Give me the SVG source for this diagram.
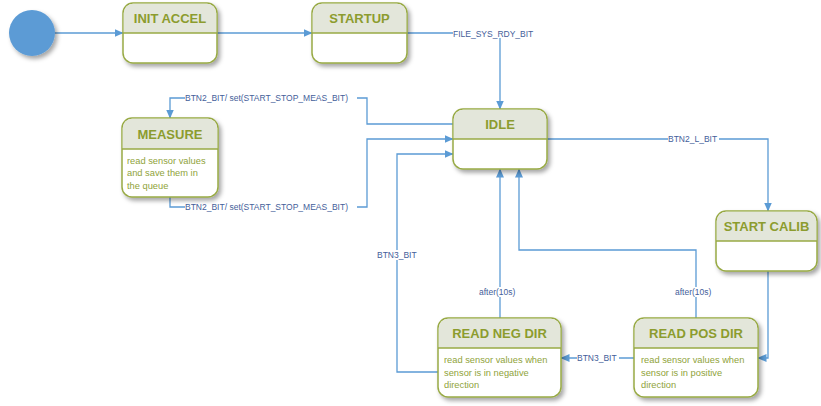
<svg xmlns="http://www.w3.org/2000/svg" width="821" height="406" viewBox="0 0 821 406">
<style>
.box{fill:#ffffff;stroke:#98aa45;stroke-width:1.5}
.hdr{fill:#e3e6da;stroke:none}
.div{stroke:#98aa45;stroke-width:1.5}
.title{font-family:"Liberation Sans",Arial,sans-serif;font-weight:bold;font-size:13px;fill:#8c9c2e;text-anchor:middle}
.body{font-family:"Liberation Sans",Arial,sans-serif;font-size:9.3px;fill:#8fa33a}
.conn{fill:none;stroke:#5b9bd5;stroke-width:1.3}
.lbl{font-family:"Liberation Sans",Arial,sans-serif;font-size:8.5px;fill:#44609a}
.bg{fill:#ffffff}
</style>
<defs>
<filter id="sh" x="-20%" y="-20%" width="150%" height="150%">
<feDropShadow dx="2.5" dy="3" stdDeviation="2" flood-color="#000" flood-opacity="0.35"/>
</filter>
<marker id="ah" markerWidth="9" markerHeight="8" refX="8.5" refY="4" orient="auto" markerUnits="userSpaceOnUse">
<path d="M0,0 L9,4 L0,8 Z" fill="#5b9bd5"/>
</marker>
</defs>

<g id="connectors">
<path class="conn" d="M55,33 H123" marker-end="url(#ah)"/>
<path class="conn" d="M217,33 H312" marker-end="url(#ah)"/>
<path class="conn" d="M407,33 H500 V109" marker-end="url(#ah)"/>
<path class="conn" d="M547,139 H768 V211" marker-end="url(#ah)"/>
<path class="conn" d="M768,271 V358 H758" marker-end="url(#ah)"/>
<path class="conn" d="M634,358 H561" marker-end="url(#ah)"/>
<path class="conn" d="M696,318 V250 H519 V169" marker-end="url(#ah)"/>
<path class="conn" d="M500,318 V169" marker-end="url(#ah)"/>
<path class="conn" d="M438,372 H397 V154 H453" marker-end="url(#ah)"/>
<path class="conn" d="M453,124 H367 V98 H170 V118" marker-end="url(#ah)"/>
<path class="conn" d="M170,197 V207 H367 V139 H453" marker-end="url(#ah)"/>

<rect class="bg" x="453" y="28" width="79" height="10"/>
<text class="lbl" x="453" y="36.5">FILE_SYS_RDY_BIT</text>
<rect class="bg" x="668" y="134" width="51" height="10"/>
<text class="lbl" x="668" y="142">BTN2_L_BIT</text>
<rect class="bg" x="185" y="93" width="172" height="10"/>
<text class="lbl" x="185" y="101">BTN2_BIT/ set(START_STOP_MEAS_BIT)</text>
<rect class="bg" x="185" y="202" width="172" height="10"/>
<text class="lbl" x="185" y="210">BTN2_BIT/ set(START_STOP_MEAS_BIT)</text>
<rect class="bg" x="377" y="250" width="41" height="10"/>
<text class="lbl" x="377" y="258">BTN3_BIT</text>
<rect class="bg" x="479" y="287" width="43" height="10"/>
<text class="lbl" x="479" y="295">after(10s)</text>
<rect class="bg" x="675" y="287" width="43" height="10"/>
<text class="lbl" x="675" y="295">after(10s)</text>
<rect class="bg" x="577" y="353" width="42" height="10"/>
<text class="lbl" x="577" y="361">BTN3_BIT</text>
</g>

<g id="start">
<circle cx="32" cy="33" r="23" fill="#5b9bd5" filter="url(#sh)"/>
</g>

<g id="init-accel">
<rect class="box" x="123" y="3" width="94" height="60" rx="10" filter="url(#sh)"/>
<path class="hdr" d="M133,3.75 H207 A9.25,9.25 0 0 1 216.25,13 V33 H123.75 V13 A9.25,9.25 0 0 1 133,3.75 Z"/>
<line class="div" x1="123" y1="33" x2="217" y2="33"/>
<text class="title" x="170" y="23">INIT ACCEL</text>
</g>

<g id="startup">
<rect class="box" x="312" y="3" width="95" height="60" rx="10" filter="url(#sh)"/>
<path class="hdr" d="M322,3.75 H397 A9.25,9.25 0 0 1 406.25,13 V33 H312.75 V13 A9.25,9.25 0 0 1 322,3.75 Z"/>
<line class="div" x1="312" y1="33" x2="407" y2="33"/>
<text class="title" x="359.5" y="23">STARTUP</text>
</g>

<g id="idle">
<rect class="box" x="453" y="109" width="94" height="60" rx="10" filter="url(#sh)"/>
<path class="hdr" d="M463,109.75 H537 A9.25,9.25 0 0 1 546.25,119 V139 H453.75 V119 A9.25,9.25 0 0 1 463,109.75 Z"/>
<line class="div" x1="453" y1="139" x2="547" y2="139"/>
<text class="title" x="500" y="129">IDLE</text>
</g>

<g id="measure">
<rect class="box" x="122" y="118" width="96" height="79" rx="10" filter="url(#sh)"/>
<path class="hdr" d="M132,118.75 H208 A9.25,9.25 0 0 1 217.25,128 V149 H122.75 V128 A9.25,9.25 0 0 1 132,118.75 Z"/>
<line class="div" x1="122" y1="149" x2="218" y2="149"/>
<text class="title" x="170" y="138.5">MEASURE</text>
<text class="body" x="127" y="163.5">read sensor values</text>
<text class="body" x="127" y="176">and save them in</text>
<text class="body" x="127" y="189">the queue</text>
</g>

<g id="start-calib">
<rect class="box" x="716" y="211" width="101" height="60" rx="10" filter="url(#sh)"/>
<path class="hdr" d="M726,211.75 H807 A9.25,9.25 0 0 1 816.25,221 V241 H716.75 V221 A9.25,9.25 0 0 1 726,211.75 Z"/>
<line class="div" x1="716" y1="241" x2="817" y2="241"/>
<text class="title" x="766.5" y="231">START CALIB</text>
</g>

<g id="read-neg-dir">
<rect class="box" x="438" y="318" width="123" height="79" rx="10" filter="url(#sh)"/>
<path class="hdr" d="M448,318.75 H551 A9.25,9.25 0 0 1 560.25,328 V348 H438.75 V328 A9.25,9.25 0 0 1 448,318.75 Z"/>
<line class="div" x1="438" y1="348" x2="561" y2="348"/>
<text class="title" x="499.5" y="338">READ NEG DIR</text>
<text class="body" x="444" y="362.5">read sensor values when</text>
<text class="body" x="444" y="375.5">sensor is in negative</text>
<text class="body" x="444" y="388">direction</text>
</g>

<g id="read-pos-dir">
<rect class="box" x="634" y="318" width="124" height="79" rx="10" filter="url(#sh)"/>
<path class="hdr" d="M644,318.75 H748 A9.25,9.25 0 0 1 757.25,328 V348 H634.75 V328 A9.25,9.25 0 0 1 644,318.75 Z"/>
<line class="div" x1="634" y1="348" x2="758" y2="348"/>
<text class="title" x="696" y="338">READ POS DIR</text>
<text class="body" x="641" y="362.5">read sensor values when</text>
<text class="body" x="641" y="375.5">sensor is in positive</text>
<text class="body" x="641" y="388">direction</text>
</g>
</svg>
